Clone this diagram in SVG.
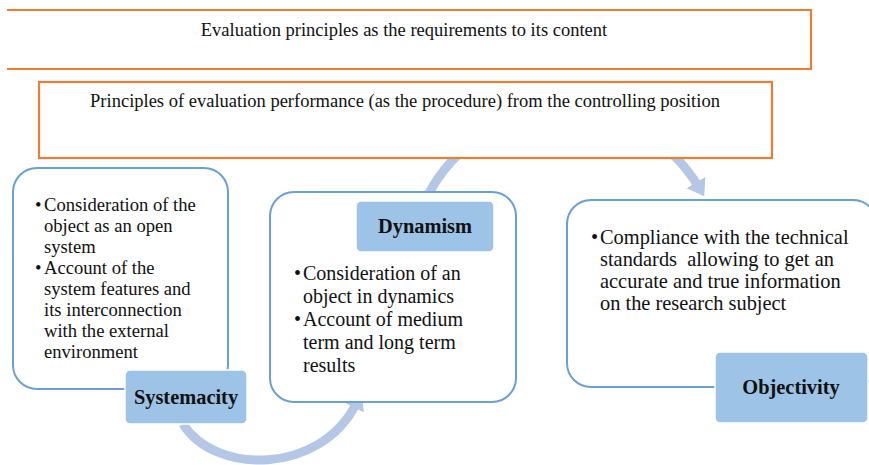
<svg xmlns="http://www.w3.org/2000/svg" width="869" height="465" viewBox="0 0 869 465">
<defs>
<style>
.orange{fill:#fff;stroke:#ed7d31;stroke-width:2.2}
.card{fill:#fff;stroke:#6b9fd6;stroke-width:2}
.lab{fill:#9dc3e6;stroke:#fff;stroke-width:1.5}
.t{font-family:"Liberation Serif","Times New Roman",serif;fill:#111}
.hd{font-size:18.5px}
.b1{font-size:18.6px}
.b2{font-size:20px}
.b3{font-size:20.4px}
.lt{font-size:20.4px;font-weight:bold;text-anchor:middle}
.arc{fill:none;stroke:#b4c7e7;stroke-width:9}
</style>
<marker id="ah" markerUnits="userSpaceOnUse" markerWidth="24" markerHeight="24" refX="4" refY="12" orient="auto">
<path d="M0,1 L16,12 L0,23 Z" fill="#b4c7e7"/>
</marker>
</defs>
<g id="connectors">
<path class="arc" d="M183,424 C215,475 320,475 356,404" marker-end="url(#ah)"/>
<path class="arc" d="M428,195 A155,155 0 0 1 698,186" marker-end="url(#ah)"/>
</g>
<g id="box-top">
<rect x="7" y="10" width="804" height="59" fill="#fff"/>
<path d="M7,10 H811 V69 H7" fill="none" stroke="#ed7d31" stroke-width="2.2"/>
<text class="t hd" x="404" y="36" text-anchor="middle">Evaluation principles as the requirements to its content</text>
</g>
<g id="box-procedure">
<rect class="orange" x="39" y="82" width="733" height="76"/>
<text class="t hd" x="405" y="107" text-anchor="middle">Principles of evaluation performance (as the procedure) from the controlling position</text>
</g>
<g id="systemacity">
<rect class="card" x="13" y="168" width="215" height="221" rx="24"/>
<text class="t b1" x="35" y="211">•</text>
<text class="t b1" x="44" y="211">Consideration of the</text>
<text class="t b1" x="44" y="232">object as an open</text>
<text class="t b1" x="44" y="253">system</text>
<text class="t b1" x="35" y="274">•</text>
<text class="t b1" x="44" y="274">Account of the</text>
<text class="t b1" x="44" y="295">system features and</text>
<text class="t b1" x="44" y="316">its interconnection</text>
<text class="t b1" x="44" y="337">with the external</text>
<text class="t b1" x="44" y="358">environment</text>
<rect class="lab" x="125" y="370" width="122" height="54" rx="5"/>
<text class="t lt" x="186" y="404">Systemacity</text>
</g>
<g id="dynamism">
<rect class="card" x="270" y="192" width="246" height="210" rx="24"/>
<rect class="lab" x="356" y="201" width="138" height="51" rx="5"/>
<text class="t lt" x="425" y="233">Dynamism</text>
<text class="t b2" x="294" y="280">•</text>
<text class="t b2" x="303" y="280">Consideration of an</text>
<text class="t b2" x="303" y="303">object in dynamics</text>
<text class="t b2" x="294" y="326">•</text>
<text class="t b2" x="303" y="326">Account of medium</text>
<text class="t b2" x="303" y="349">term and long term</text>
<text class="t b2" x="303" y="372">results</text>
</g>
<g id="objectivity">
<rect class="card" x="567" y="200" width="310" height="187" rx="24"/>
<text class="t b3" x="591" y="244">•</text>
<text class="t b3" x="600" y="244">Compliance with the technical</text>
<text class="t b3" x="600" y="266">standards &#160;allowing to get an</text>
<text class="t b3" x="600" y="288">accurate and true information</text>
<text class="t b3" x="600" y="310">on the research subject</text>
<rect class="lab" x="715" y="352" width="153" height="71" rx="5"/>
<text class="t lt" x="791" y="394">Objectivity</text>
</g>
</svg>
